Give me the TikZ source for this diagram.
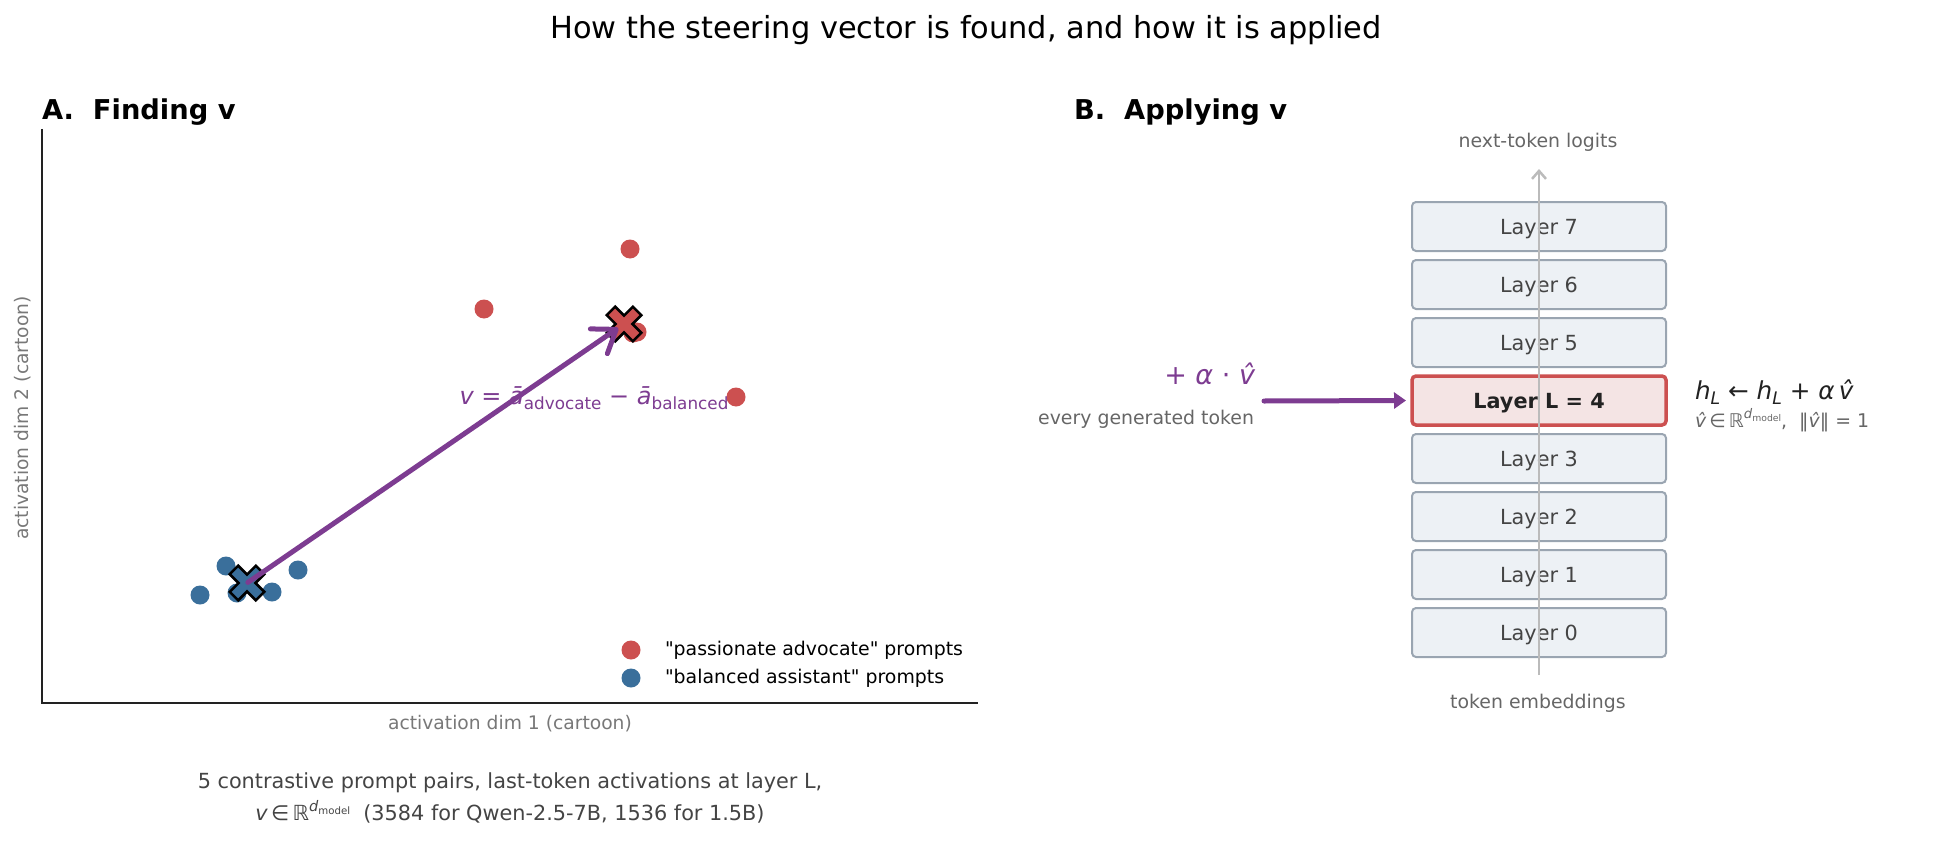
\documentclass[tikz,border=0pt]{standalone}
\usepackage{graphicx}
\usepackage{fontspec}
\setmainfont{DejaVu Sans}[Ligatures=TeXOff]
\usetikzlibrary{arrows.meta}
\definecolor{cred}{RGB}{204,80,80}
\definecolor{cblue}{RGB}{58,111,155}
\definecolor{cpurp}{RGB}{125,60,145}
\definecolor{axgray}{RGB}{120,120,120}
\definecolor{txtgray}{RGB}{102,102,102}
\definecolor{capgray}{RGB}{68,68,68}
\definecolor{darktxt}{RGB}{34,34,34}
\definecolor{boxfill}{RGB}{237,241,245}
\definecolor{boxedge}{RGB}{154,165,177}
\definecolor{hlfill}{RGB}{244,228,228}
\definecolor{flowgray}{RGB}{187,187,187}
\newcommand\fsz[1]{\fontsize{#1}{#1}\selectfont}
\newcommand\mylo[1]{\raisebox{-0.2em}{\scalebox{0.7}{#1}}}
\newcommand\myhi[1]{\raisebox{0.45em}{\scalebox{0.7}{#1}}}
\tikzset{
  xmark/.pic={\path[pic actions, rotate=45] (-18.5,-6) -- (-6,-6) -- (-6,-18.5) -- (6,-18.5) -- (6,-6) -- (18.5,-6) -- (18.5,6) -- (6,6) -- (6,18.5) -- (-6,18.5) -- (-6,6) -- (-18.5,6) -- cycle;}
}
\begin{document}
\begin{tikzpicture}[x=1pt,y=-1pt,
  every node/.style={inner sep=0pt, outer sep=0pt},
  dot/.style={circle, minimum size=19pt, inner sep=0pt},
  reddot/.style={dot, fill=cred},
  bluedot/.style={dot, fill=cblue},
  spine/.style={line width=2pt, draw=darktxt},
  heading/.style={anchor=base west, font=\bfseries\fsz{27.3}},
  axlabel/.style={text=axgray, font=\fsz{18.7}},
  layerbox/.style={draw=boxedge, fill=boxfill, line width=2pt, rounded corners=4pt, minimum width=254pt, minimum height=49pt, text depth=0pt, text=capgray, font=\fsz{20.8}},
  hlbox/.style={layerbox, draw=cred, fill=hlfill, line width=3.5pt, text=darktxt, font=\bfseries\fsz{20.8}},
  cent/.style={fill=#1, draw=black, line width=2.5pt, line join=miter},
  grayt/.style={text=txtgray, font=\fsz{18.9}}
]
\useasboundingbox (0,0) rectangle (1934,840);

% title
\node (title) at (966,30) {\fsz{30.4}How the steering vector is found, and how it is applied};

% ---------- Panel A ----------
\node[heading] (headA) at (42,120) {A.\ \ Finding v};
\coordinate (ytop) at (42,129);
\coordinate (orig) at (42,703);
\coordinate (xend) at (978,703);
\draw[spine] (ytop) -- (orig) -- (xend);
\node[axlabel, rotate=90] (ylab) at (23,418) {activation dim 2 (cartoon)};
\node[axlabel] (xlab) at (510,724) {activation dim 1 (cartoon)};

\node[reddot] (r1) at (630,249) {};
\node[reddot] (r2) at (484,309) {};
\node[reddot] (r3) at (736,397) {};
\node[reddot] (r4) at (637,332) {};
\node[reddot] (r5) at (633,333) {};
\node[bluedot] (b1) at (226,566) {};
\node[bluedot] (b2) at (200,595) {};
\node[bluedot] (b3) at (298,570) {};
\node[bluedot] (b4) at (272,592) {};
\node[bluedot] (b5) at (237,593) {};

\coordinate (ca) at (624,324);
\coordinate (cb) at (247,583);
\pic[cent=cred] at (ca) {xmark};
\pic[cent=cblue] at (cb) {xmark};
\draw[cpurp, line width=5pt, line cap=round, -{Straight Barb[length=21pt,width=30pt,round]}, shorten >=7pt, shorten <=1pt] (cb) -- (ca);

\node[text=cpurp, font=\fsz{24}] (vform) at (594,398) {{\itshape v} = {\itshape ā}\mylo{advocate} − {\itshape ā}\mylo{balanced}};

\node[reddot] (lr) at (631,650) {};
\node[bluedot] (lb) at (631,678) {};
\node[anchor=west, font=\fsz{18.9}] (lrt) at (665,650) {"passionate advocate" prompts};
\node[anchor=west, font=\fsz{18.9}] (lbt) at (665,678) {"balanced assistant" prompts};

\node[text=capgray, font=\fsz{20.8}] (cap1) at (510,783) {5 contrastive prompt pairs, last-token activations at layer L,};
\node[text=capgray, font=\fsz{20.8}] (cap2) at (510,812) {{\itshape v}\,∈\,ℝ\myhi{{\itshape d}\mylo{model}}\ \ (3584 for Qwen-2.5-7B, 1536 for 1.5B)};

% ---------- Panel B ----------
\node[heading] (headB) at (1074,120) {B.\ \ Applying v};
\foreach \i in {0,1,2,3,5,6,7}{
  \node[layerbox] (L\i) at (1539,632.5-58*\i) {Layer \i};
}
\node[hlbox] (L4) at (1539,400.5) {Layer L = 4};

\node[grayt] (logits) at (1538,142) {next-token logits};
\node[grayt] (emb) at (1538,703) {token embeddings};
\coordinate (fb) at (1539,675);
\coordinate (ft) at (1539,169);
\draw[flowgray, line width=2.5pt, -{Straight Barb[length=8pt,width=14pt]}] (fb) -- (ft);

\coordinate (inj) at (1264,401);
\draw[cpurp, line width=5pt, line cap=round, -{Triangle[length=12pt,width=16pt]}, shorten >=6pt] (inj) -- (L4.west);
\node[anchor=east, text=cpurp, font=\fsz{27}] (plab) at (1255,374) {+ {\itshape α} · {\itshape \^{v}}};
\node[grayt, anchor=east] (egt) at (1254,419) {every generated token};

\node[anchor=west, text=darktxt, font=\fsz{24.7}] (upd) at (1695,392) {{\itshape h}\mylo{\itshape L} ← {\itshape h}\mylo{\itshape L} + {\itshape α}\,{\itshape \^{v}}};
\node[anchor=west, text=txtgray, font=\fsz{18.9}] (norm) at (1695,420) {{\itshape \^{v}}\,∈\,ℝ\myhi{{\itshape d}\mylo{model}},\ \ ‖{\itshape \^{v}}‖ = 1};
\end{tikzpicture}
\end{document}
